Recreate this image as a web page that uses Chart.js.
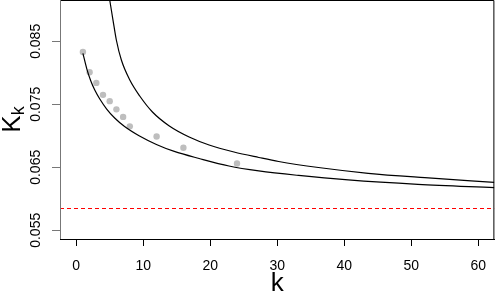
<!DOCTYPE html>
<html>
<head>
<meta charset="utf-8">
<script src="https://cdn.jsdelivr.net/npm/chart.js@4/dist/chart.umd.min.js"></script>
<style>
  html, body { margin: 0; padding: 0; background: #fff; }
  #wrap { width: 498px; height: 293px; }
</style>
</head>
<body>
<div id="wrap"><canvas id="chart" width="498" height="293"></canvas></div>
<script>
// values
const sampleK = [1, 2, 3, 4, 5, 6, 7, 8, 12, 16, 24];
const sampleKk = [0.0833, 0.0801, 0.0784, 0.0765, 0.0755, 0.0742, 0.0730, 0.0715, 0.0699, 0.0681, 0.0656];

const upperK = [4.75, 5.0, 5.49, 5.99, 6.74, 8.0, 9.48, 11.38, 13.9, 16.86, 19.84, 23.55, 27.26, 30.22, 36.15, 43.58, 52.03, 62.4];
const upperKk = [0.09314, 0.09156, 0.08838, 0.08521, 0.08203, 0.07886, 0.07632, 0.07378, 0.07156, 0.06981, 0.06854, 0.06743, 0.06656, 0.06592, 0.06497, 0.06405, 0.06335, 0.06262];

const lowerK = [1, 1.59, 2.18, 2.77, 3.52, 4.55, 5.74, 7.22, 9.45, 11.97, 14.64, 18.35, 22.8, 27.25, 33.2, 40.6, 51.0, 62.4];
const lowerKk = [0.0831, 0.08060, 0.07870, 0.07727, 0.07584, 0.07425, 0.07283, 0.07148, 0.06997, 0.06863, 0.06752, 0.06640, 0.06521, 0.06443, 0.06371, 0.06300, 0.06230, 0.06178];

const refLevel = 0.05846;

const xTicks = [0, 10, 20, 30, 40, 50, 60];
const yTicks = [0.055, 0.065, 0.075, 0.085];
const xRange = [-2.42, 62.42];
const yRange = [0.05362, 0.09156];

function pairs(xs, ys) {
    return xs.map((x, i) => ({ x: x, y: ys[i] }));
}

const FONT = '"Liberation Sans", Arial, sans-serif';

// box, y tick labels and axis titles, drawn R style
const rDecor = {
    id: 'rDecor',
    afterDraw(chart) {
        const ctx = chart.ctx;
        const a = chart.chartArea;
        const ys = chart.scales.y;
        ctx.save();
        ctx.lineWidth = 1;
        ctx.strokeStyle = '#000';
        ctx.beginPath();
        ctx.moveTo(a.left, a.top + 0.5);
        ctx.lineTo(a.right - 0.5, a.top + 0.5);
        ctx.lineTo(a.right - 0.5, a.bottom);
        ctx.stroke();
        ctx.strokeStyle = '#777';
        ctx.beginPath();
        ctx.moveTo(a.left + 0.5, a.top);
        ctx.lineTo(a.left + 0.5, a.bottom);
        ctx.stroke();

        ctx.fillStyle = '#000';
        ctx.font = '14px ' + FONT;
        ctx.textAlign = 'center';
        ctx.textBaseline = 'alphabetic';
        ys.ticks.forEach(t => {
            const py = ys.getPixelForValue(t.value);
            ctx.save();
            ctx.translate(40, py);
            ctx.rotate(-Math.PI / 2);
            ctx.fillText(t.value.toFixed(3), 0, 0);
            ctx.restore();
        });

        // x title
        ctx.font = '26px ' + FONT;
        ctx.fillText('k', (a.left + a.right) / 2, 291);

        // K with subscript k
        const midY = (a.top + a.bottom) / 2;
        ctx.save();
        ctx.translate(20, midY);
        ctx.rotate(-Math.PI / 2);
        ctx.textAlign = 'left';
        ctx.font = '26px ' + FONT;
        const wK = ctx.measureText('K').width;
        ctx.font = '18px ' + FONT;
        const wk = ctx.measureText('k').width;
        const start = -(wK + wk) / 2;
        ctx.font = '26px ' + FONT;
        ctx.fillText('K', start, 0);
        ctx.font = '18px ' + FONT;
        ctx.fillText('k', start + wK, 4);
        ctx.restore();
        ctx.restore();
    }
};

new Chart(document.getElementById('chart'), {
    type: 'scatter',
    data: {
        datasets: [
            {
                label: 'ref',
                type: 'line',
                data: pairs(xRange, [refLevel, refLevel]),
                borderColor: '#ff0000',
                borderWidth: 1,
                borderDash: [4, 3],
                pointRadius: 0,
                fill: false
            },
            {
                label: 'upper',
                type: 'line',
                data: pairs(upperK, upperKk),
                borderColor: '#000',
                borderWidth: 1.2,
                pointRadius: 0,
                cubicInterpolationMode: 'monotone',
                fill: false
            },
            {
                label: 'lower',
                type: 'line',
                data: pairs(lowerK, lowerKk),
                borderColor: '#000',
                borderWidth: 1.2,
                pointRadius: 0,
                cubicInterpolationMode: 'monotone',
                fill: false
            },
            {
                label: 'samples',
                data: pairs(sampleK, sampleKk),
                backgroundColor: '#bebebe',
                borderColor: '#bebebe',
                pointRadius: 3.2,
                borderWidth: 0
            }
        ]
    },
    options: {
        responsive: false,
        animation: false,
        devicePixelRatio: 1,
        layout: { autoPadding: false, padding: { top: 0, right: 1, left: 0, bottom: 0 } },
        plugins: {
            legend: { display: false },
            tooltip: { enabled: false }
        },
        scales: {
            x: {
                type: 'linear',
                min: xRange[0],
                max: xRange[1],
                afterBuildTicks: s => { s.ticks = xTicks.map(v => ({ value: v })); },
                afterFit: s => { s.height = 54; },
                grid: { drawOnChartArea: false, drawTicks: true, tickLength: 7, color: '#000' },
                border: { display: true, color: '#000', width: 1 },
                ticks: {
                    color: '#000',
                    padding: 12,
                    maxRotation: 0,
                    font: { family: FONT, size: 14 }
                }
            },
            y: {
                type: 'linear',
                min: yRange[0],
                max: yRange[1],
                afterBuildTicks: s => { s.ticks = yTicks.map(v => ({ value: v })); },
                afterFit: s => { s.width = 60; },
                grid: { drawOnChartArea: false, drawTicks: true, tickLength: 8, color: '#777' },
                border: { display: false },
                ticks: { display: false }
            }
        }
    },
    plugins: [rDecor]
});
</script>
</body>
</html>
